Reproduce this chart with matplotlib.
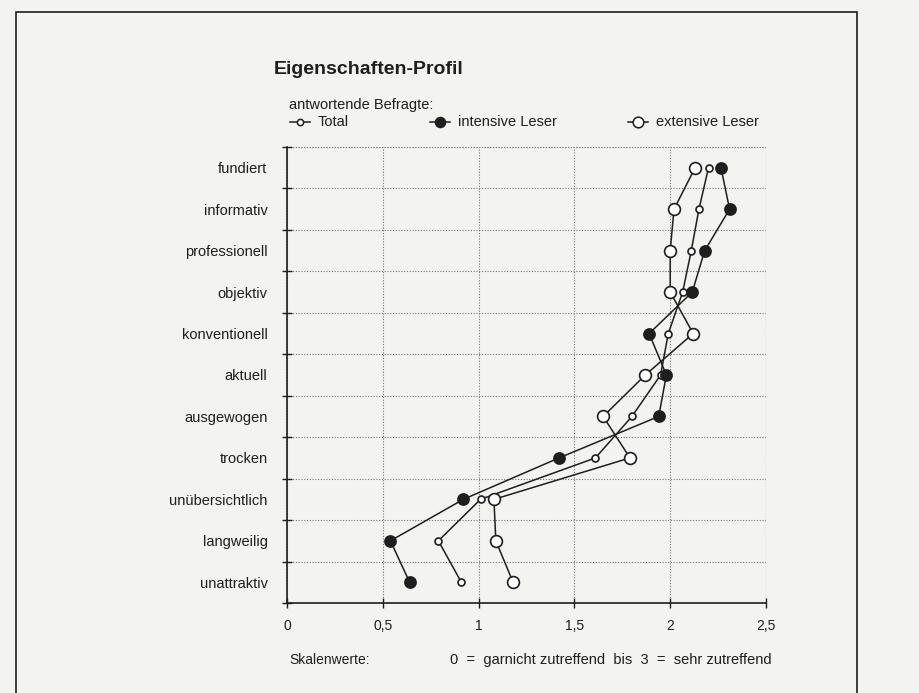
import matplotlib
matplotlib.use('Agg')
import matplotlib.pyplot as plt
from matplotlib.lines import Line2D
from matplotlib.patches import Rectangle

plt.rcParams['font.family'] = ['Liberation Sans', 'DejaVu Sans']

# data (0 = garnicht zutreffend .. 3 = sehr zutreffend)
categories = ['fundiert', 'informativ', 'professionell', 'objektiv', 'konventionell',
              'aktuell', 'ausgewogen', 'trocken', 'unübersichtlich', 'langweilig',
              'unattraktiv']
total = [2.20, 2.15, 2.11, 2.065, 1.99, 1.95, 1.80, 1.61, 1.01, 0.79, 0.91]
intensive = [2.265, 2.31, 2.18, 2.115, 1.89, 1.98, 1.94, 1.42, 0.92, 0.54, 0.64]
extensive = [2.13, 2.02, 2.00, 2.00, 2.12, 1.87, 1.65, 1.79, 1.08, 1.09, 1.18]
xticks = [0, 0.5, 1, 1.5, 2, 2.5]
xticklabels = ['0', '0,5', '1', '1,5', '2', '2,5']

BG = '#f3f3f1'
INK = '#1e1e1e'
W, H = 919, 693

fig = plt.figure(figsize=(W / 100, H / 100), dpi=100, facecolor=BG)

# frame around the figure box (open at the bottom)
fig.patches.append(Rectangle((16 / W, -0.05), (857 - 16) / W, 1.05 - 12 / H,
                             transform=fig.transFigure, fill=False,
                             edgecolor=INK, linewidth=1.2))

ax = fig.add_axes([287 / W, 1 - 603 / H, 479 / W, 456 / H])
ax.set_facecolor(BG)

n = len(categories)
ypos = [n - 0.5 - i for i in range(n)]

styles = [
    (total, dict(marker='o', markersize=5, markerfacecolor='white')),
    (intensive, dict(marker='o', markersize=8, markerfacecolor=INK)),
    (extensive, dict(marker='o', markersize=8.5, markerfacecolor='white')),
]
for vals, st in styles:
    ax.plot(vals, ypos, color=INK, linewidth=1.1, zorder=3)
for vals, st in styles:
    ax.plot(vals, ypos, linestyle='none', markeredgecolor=INK,
            markeredgewidth=1.2, zorder=4, **st)

ax.set_xlim(0, 2.5)
ax.set_ylim(0, n)

ax.set_xticks(xticks)
ax.set_xticklabels(xticklabels, fontsize=10, color=INK)
ax.set_yticks(range(n + 1))
ax.set_yticklabels([])
ax.set_yticks(ypos, minor=True)
ax.set_yticklabels(categories, minor=True, fontsize=10.5, color=INK)
ax.tick_params(axis='y', which='minor', length=0, pad=14)
ax.tick_params(axis='y', which='major', direction='inout', length=7, width=1, color=INK)
ax.tick_params(axis='x', direction='inout', length=7, width=1, color=INK, pad=8)

ax.grid(True, which='major', linestyle=(0, (1, 1.5)), linewidth=0.8, color='#777777')
for s in ['top', 'right']:
    ax.spines[s].set_visible(False)
for s in ['left', 'bottom']:
    ax.spines[s].set_color(INK)
    ax.spines[s].set_linewidth(1.2)
ax.axhline(n, linestyle=(0, (1, 1.5)), linewidth=0.8, color='#777777', zorder=1)
ax.axvline(2.5, linestyle=(0, (1, 1.5)), linewidth=0.8, color='#777777', zorder=1)

# titles and legend
fig.text(274 / W, 1 - 70 / H, 'Eigenschaften-Profil', fontsize=14, fontweight='bold',
         color=INK, va='center', ha='left')
fig.text(289 / W, 1 - 105 / H, 'antwortende Befragte:', fontsize=10.5, color=INK,
         va='center', ha='left')

legend_items = [
    (290, 'Total', styles[0][1]),
    (430, 'intensive Leser', styles[1][1]),
    (628, 'extensive Leser', styles[2][1]),
]
ly = 1 - 122 / H
for x0, label, st in legend_items:
    fig.add_artist(Line2D([x0 / W, (x0 + 20) / W], [ly, ly], color=INK, linewidth=1.1,
                          transform=fig.transFigure))
    st2 = dict(st)
    st2['markersize'] = st['markersize'] * 0.9
    fig.add_artist(Line2D([(x0 + 10) / W], [ly], linestyle='none', markeredgecolor=INK,
                          markeredgewidth=1.1, transform=fig.transFigure, **st2))
    fig.text((x0 + 28) / W, ly, label, fontsize=10.5, color=INK, va='center', ha='left')

fig.text(289 / W, 1 - 660 / H, 'Skalenwerte:', fontsize=10, color=INK,
         va='center', ha='left')
fig.text(450 / W, 1 - 660 / H, '0  =  garnicht zutreffend  bis  3  =  sehr zutreffend',
         fontsize=10.5, color=INK, va='center', ha='left')

plt.savefig('out.png', dpi=100, facecolor=BG)
plt.close(fig)
